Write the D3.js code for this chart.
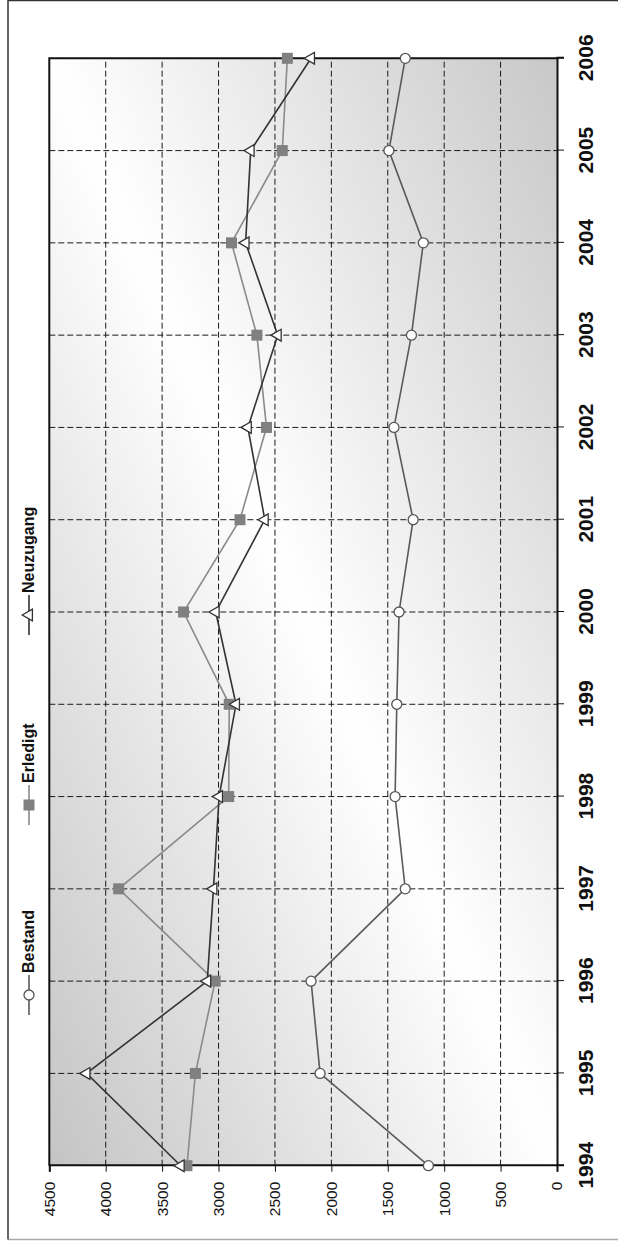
<!DOCTYPE html>
<html>
<head>
<meta charset="utf-8">
<script src="https://cdn.jsdelivr.net/npm/d3@7"></script>
<style>
  html, body { margin: 0; padding: 0; background: #fff; }
  svg { display: block; }
  text { font-family: "Liberation Sans", Arial, Helvetica, sans-serif; }
</style>
</head>
<body>
<div id="chart"></div>
<script>
// Jahre und Werte je Reihe
const years = [1994, 1995, 1996, 1997, 1998, 1999, 2000, 2001, 2002, 2003, 2004, 2005, 2006];
const bestand   = [1140, 2100, 2180, 1345, 1435, 1420, 1400, 1275, 1445, 1290, 1185, 1490, 1345];
const erledigt  = [3280, 3205, 3030, 3885, 2910, 2905, 3310, 2810, 2575, 2660, 2885, 2435, 2390];
const neuzugang = [3335, 4170, 3100, 3045, 2995, 2845, 3025, 2590, 2740, 2475, 2760, 2715, 2180];
const seriesNames = ["Bestand", "Erledigt", "Neuzugang"];
const valueTicks = [0, 500, 1000, 1500, 2000, 2500, 3000, 3500, 4000, 4500];

const W = 618, H = 1241;
// the chart is laid out landscape (H wide, W tall) and turned a quarter to the left
const LW = H, LH = W;

const svg = d3.select("#chart").append("svg")
  .attr("width", W).attr("height", H);

const defs = svg.append("defs");
const grad = defs.append("linearGradient")
  .attr("id", "plotBg")
  .attr("x1", 0).attr("y1", 0).attr("x2", 1).attr("y2", 1);
grad.append("stop").attr("offset", "0%").attr("stop-color", "#c4c4c4");
grad.append("stop").attr("offset", "50%").attr("stop-color", "#ffffff");
grad.append("stop").attr("offset", "100%").attr("stop-color", "#c8c8c8");

const g = svg.append("g").attr("transform", `translate(0,${H}) rotate(-90)`);

// outer frame
g.append("line").attr("x1", 1.5).attr("x2", 1.5).attr("y1", 8).attr("y2", LH)
  .attr("stroke", "#aaaaaa").attr("stroke-width", 1.5);
g.append("line").attr("x1", 1.5).attr("x2", LW).attr("y1", 8).attr("y2", 8)
  .attr("stroke", "#333").attr("stroke-width", 1.5);
g.append("line").attr("x1", LW - 0.5).attr("x2", LW - 0.5).attr("y1", 8).attr("y2", LH)
  .attr("stroke", "#333").attr("stroke-width", 1.5);

const plot = { left: 75.3, right: 1182.7, top: 49.3, bottom: 557 };

const x = d3.scalePoint().domain(years).range([plot.left, plot.right]);
const y = d3.scaleLinear().domain([0, 4500]).range([plot.bottom, plot.top]);

// plot background
g.append("rect")
  .attr("x", plot.left).attr("y", plot.top)
  .attr("width", plot.right - plot.left).attr("height", plot.bottom - plot.top)
  .attr("fill", "url(#plotBg)");

// grid
const grid = g.append("g").attr("stroke", "#1a1a1a").attr("stroke-width", 1)
  .attr("stroke-dasharray", "6,3").attr("fill", "none");
grid.selectAll("line.h").data(valueTicks.filter(v => v > 0 && v < 4500)).join("line")
  .attr("class", "h")
  .attr("x1", plot.left).attr("x2", plot.right)
  .attr("y1", d => y(d)).attr("y2", d => y(d));
grid.selectAll("line.v").data(years.slice(1, -1)).join("line")
  .attr("class", "v")
  .attr("x1", d => x(d)).attr("x2", d => x(d))
  .attr("y1", plot.top).attr("y2", plot.bottom);

// top and right frame of the plot
g.append("path")
  .attr("d", `M${plot.left},${plot.top}H${plot.right}V${plot.bottom}`)
  .attr("fill", "none").attr("stroke", "#111").attr("stroke-width", 2);

// axes
const yAxis = g.append("g").attr("transform", `translate(${plot.left},0)`)
  .call(d3.axisLeft(y).tickValues(valueTicks).tickSize(6).tickPadding(10).tickFormat(d3.format("d")));
yAxis.select(".domain").attr("stroke", "#111").attr("stroke-width", 2);
yAxis.selectAll(".tick line").attr("stroke", "#111");
yAxis.selectAll("text").attr("font-size", "15.5px").attr("fill", "#111")
  .style("font-family", '"Liberation Sans", Arial, sans-serif');

const xAxis = g.append("g").attr("transform", `translate(0,${plot.bottom})`)
  .call(d3.axisBottom(x).tickSize(7).tickPadding(14.3));
xAxis.select(".domain").attr("stroke", "#111").attr("stroke-width", 2);
xAxis.selectAll(".tick line").attr("stroke", "#111");
xAxis.selectAll("text").attr("font-size", "21px").attr("font-weight", "bold").attr("fill", "#111")
  .style("font-family", '"Liberation Sans", Arial, sans-serif');

// series
const series = [
  { name: seriesNames[0], values: bestand,   line: "#5a5a5a", type: "circle" },
  { name: seriesNames[1], values: erledigt,  line: "#8a8a8a", type: "square" },
  { name: seriesNames[2], values: neuzugang, line: "#333333", type: "triangle" }
];

const lineGen = d3.line().x((d, i) => x(years[i])).y(d => y(d));

function drawMarker(sel, type) {
  if (type === "circle") {
    sel.append("circle").attr("r", 5)
      .attr("fill", "#fff").attr("stroke", "#555").attr("stroke-width", 1.3);
  } else if (type === "square") {
    sel.append("rect").attr("x", -5.5).attr("y", -5.5).attr("width", 11).attr("height", 11)
      .attr("fill", "#808080");
  } else {
    sel.append("path").attr("d", d3.symbol(d3.symbolTriangle, 60)())
      .attr("fill", "#fff").attr("stroke", "#333").attr("stroke-width", 1.3);
  }
}

series.forEach(s => {
  g.append("path").datum(s.values)
    .attr("d", lineGen)
    .attr("fill", "none").attr("stroke", s.line).attr("stroke-width", 1.6);
});
series.forEach(s => {
  const m = g.append("g").selectAll("g").data(s.values).join("g")
    .attr("transform", (d, i) => `translate(${x(years[i])},${y(d)})`);
  m.each(function() { drawMarker(d3.select(this), s.type); });
});

// legend
const legendX = [226, 416, 606];
const legend = g.append("g");
series.forEach((s, i) => {
  const lg = legend.append("g").attr("transform", `translate(${legendX[i]},29)`);
  lg.append("line").attr("x1", 0).attr("x2", 40).attr("y1", 0).attr("y2", 0)
    .attr("stroke", s.line).attr("stroke-width", 1.6);
  const m = lg.append("g").attr("transform", "translate(20,0)");
  drawMarker(m, s.type);
  lg.append("text").attr("x", 42).attr("y", 4.8)
    .attr("font-size", "16px").attr("font-weight", "bold").attr("fill", "#111")
    .text(s.name);
});
</script>
</body>
</html>
